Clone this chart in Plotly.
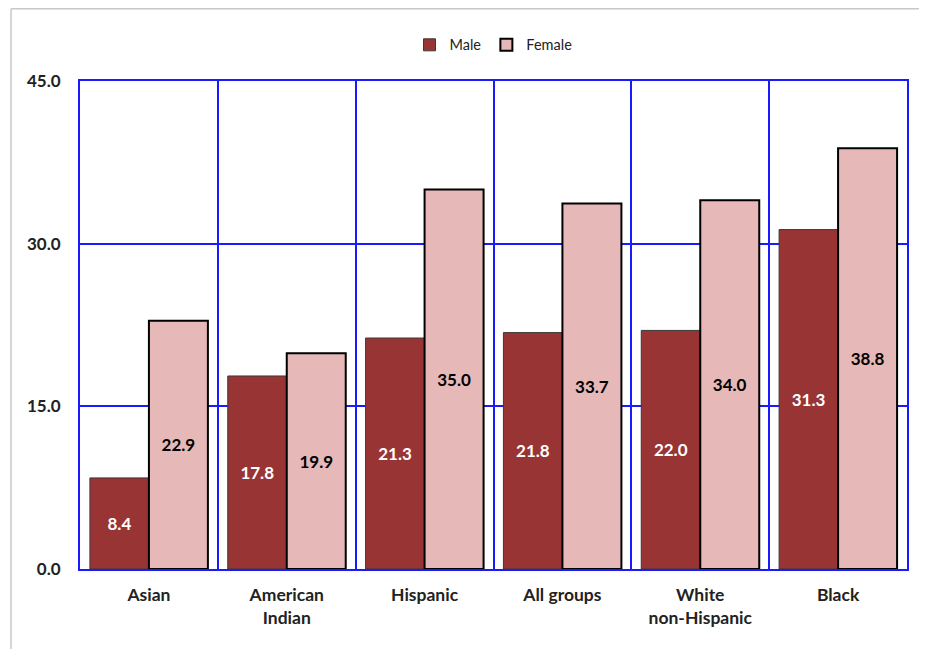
import plotly.graph_objects as go

categories = ["Asian", "American<br>Indian", "Hispanic", "All groups", "White<br>non-Hispanic", "Black"]
male = [8.4, 17.8, 21.3, 21.8, 22.0, 31.3]
female = [22.9, 19.9, 35.0, 33.7, 34.0, 38.8]
y_ticks = [0, 15, 30, 45]

FONT = "Lato"

fig = go.Figure()
fig.add_trace(go.Bar(
    name="Male", x=categories, y=male,
    marker=dict(color="#993434", line=dict(color="#3a3a3a", width=1)),
    text=[f"{v:.1f}" for v in male], textposition="inside", insidetextanchor="middle",
    textfont=dict(color="white", size=17, family=FONT, weight="bold"), textangle=0,
))
fig.add_trace(go.Bar(
    name="Female", x=categories, y=female,
    marker=dict(color="#E6B8B7", line=dict(color="black", width=2)),
    text=[f"{v:.1f}" for v in female], textposition="inside", insidetextanchor="middle",
    textfont=dict(color="black", size=17, family=FONT, weight="bold"), textangle=0,
))

fig.update_layout(
    width=919, height=641,
    margin=dict(l=72, r=20, t=73, b=80),
    paper_bgcolor="white", plot_bgcolor="white",
    barmode="group", bargap=0.144, bargroupgap=0,
    font=dict(family=FONT, color="#222"),
    legend=dict(orientation="h", x=0.5, xanchor="center", y=1.074, yanchor="middle",
                font=dict(size=14.5, family=FONT), traceorder="normal",
                itemwidth=30),
    showlegend=True,
    uniformtext=dict(mode=False),
)
fig.update_xaxes(
    type="category", tickson="boundaries", showgrid=True, gridcolor="#1a1aff", gridwidth=2,
    showline=True, linecolor="#1a1aff", linewidth=2, mirror=True,
    ticks="outside", ticklen=19, tickcolor="rgba(0,0,0,0)", ticklabelstandoff=9,
    tickfont=dict(size=17.5, family=FONT, color="#222", weight="bold"),
)
fig.update_yaxes(
    range=[0, 45], tickvals=y_ticks, tickformat=".1f",
    showgrid=True, gridcolor="#1a1aff", gridwidth=2, zeroline=False,
    showline=True, linecolor="#1a1aff", linewidth=2, mirror=True,
    ticks="outside", ticklen=14, tickcolor="rgba(0,0,0,0)",
    tickfont=dict(size=17, family=FONT, color="#222", weight="bold"),
)
# light grey partial frame
fig.add_shape(type="line", xref="paper", yref="paper", x0=-0.0834, x1=-0.0834, y0=1.148, y1=-0.2,
              line=dict(color="#c8c8c8", width=1.5))
fig.add_shape(type="line", xref="paper", yref="paper", x0=-0.0834, x1=1.03, y0=1.148, y1=1.148,
              line=dict(color="#c8c8c8", width=1.5))

fig.write_html("out.html")
